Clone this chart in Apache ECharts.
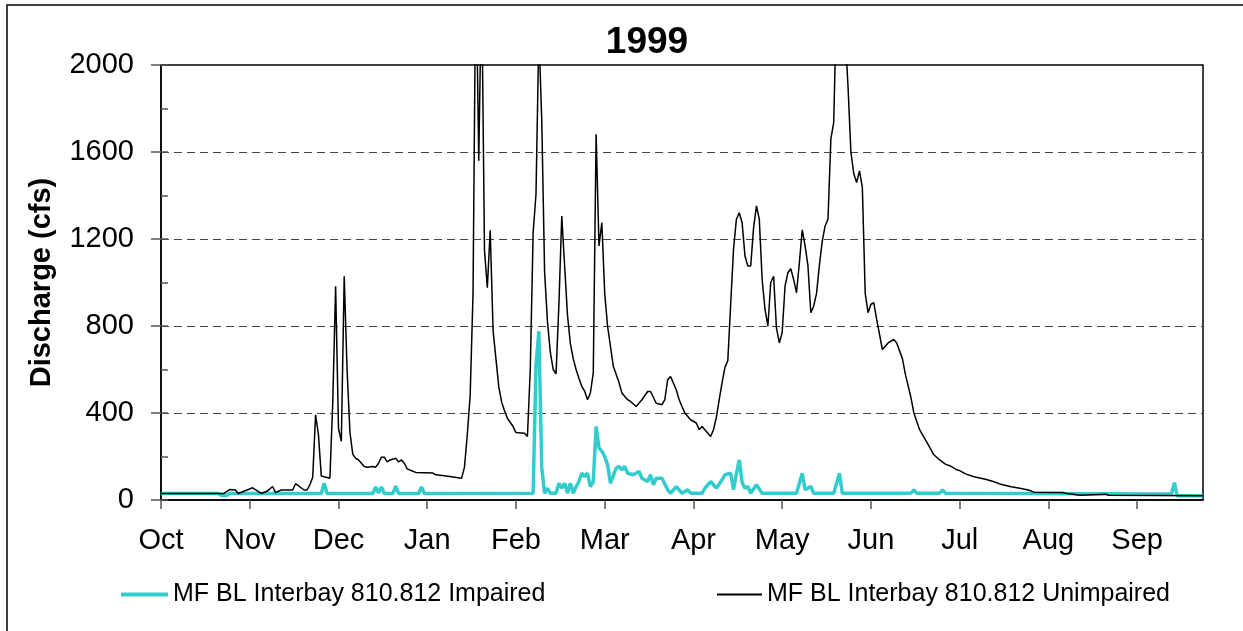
<!DOCTYPE html>
<html>
<head>
<meta charset="utf-8">
<title>1999</title>
<script src="https://cdn.jsdelivr.net/npm/echarts@6/dist/echarts.min.js"></script>
<style>
  html, body { margin: 0; padding: 0; background: #fff; }
  #chart { width: 1243px; height: 631px; }
</style>
</head>
<body>
<div id="chart"></div>
<script>
// day index counted from Oct 1 1998, ticks every 31 days like the original sheet
const monthLabels = ['Oct', 'Nov', 'Dec', 'Jan', 'Feb', 'Mar', 'Apr', 'May', 'Jun', 'Jul', 'Aug', 'Sep']
const tickDays = [0, 31, 62, 93, 124, 155, 186, 217, 248, 279, 310, 341]
const yTicks = [0, 400, 800, 1200, 1600, 2000]

const impairedName = 'MF BL Interbay 810.812 Impaired'
const unimpairedName = 'MF BL Interbay 810.812 Unimpaired'

// impaired flow (cfs)
const impairedDay = [0, 20, 21, 23, 24, 56, 57, 58, 74, 75, 76, 77, 78, 81, 82, 83, 90, 91, 92,
  130, 131, 132, 133, 134, 135, 136, 138, 139, 140, 141, 142, 143, 144, 145, 146, 147, 148, 149, 150,
  151, 152, 153, 154, 155, 156, 157, 159, 160, 161, 162, 163, 165, 167, 168, 170, 171, 172, 173, 175,
  177, 178, 180, 182, 184, 185, 189, 190, 192, 193, 194, 196, 197, 199, 200, 201, 202, 203, 204, 205,
  206, 208, 210, 222, 224, 225, 227, 228, 235, 237, 238, 262, 263, 264, 272, 273, 274, 353, 354, 355, 364]
const impairedCfs = [30, 30, 22, 22, 30, 30, 77, 30, 30, 60, 32, 60, 30, 30, 64, 30, 30, 60, 30,
  31, 620, 776, 150, 31, 54, 31, 31, 77, 54, 77, 31, 77, 31, 62, 85, 123, 108, 123, 62,
  85, 338, 240, 225, 200, 162, 77, 146, 154, 139, 154, 123, 116, 131, 100, 85, 116, 70, 100, 100,
  47, 31, 62, 31, 47, 31, 31, 54, 85, 70, 54, 93, 116, 123, 47, 120, 184, 80, 54, 62,
  31, 70, 31, 31, 123, 47, 62, 31, 31, 123, 31, 31, 47, 31, 31, 47, 31, 28, 80, 20, 20]

// unimpaired flow (cfs), peaks above 2000 run off the top of the plot
const unimpairedDay = [0, 22, 24, 26, 27, 32, 35, 37, 39, 40, 42, 46, 47, 50, 51, 52, 53, 54, 55, 56,
  59, 60, 61, 62, 63, 64, 65, 66, 67, 68, 69, 70, 71, 72, 74, 75, 76, 77, 78, 79, 80, 82, 83, 84, 85,
  86, 88, 89, 95, 96, 99, 105, 106, 107, 108, 109, 110, 111, 112, 113, 114, 115, 116, 117, 118, 119,
  120, 121, 123, 124, 127, 128, 129, 130, 131, 132, 133, 134, 135, 136, 137, 138, 139, 140, 141, 142,
  143, 144, 145, 146, 147, 148, 149, 150, 151, 152, 153, 154, 155, 156, 158, 160, 161, 163, 164, 166,
  168, 170, 171, 173, 175, 176, 177, 178, 180, 181, 182, 183, 185, 187, 188, 189, 190, 192, 193, 194,
  195, 196, 197, 198, 199, 200, 201, 202, 203, 204, 205, 206, 207, 208, 209, 210, 211, 212, 213, 214,
  215, 216, 217, 218, 219, 220, 221, 222, 223, 224, 225, 226, 227, 228, 229, 230, 231, 232, 233, 234,
  235, 236, 237, 238, 239, 240, 241, 242, 243, 244, 245, 246, 247, 248, 249, 250, 252, 254, 256, 257,
  259, 260, 262, 263, 265, 268, 270, 272, 274, 276, 278, 279, 281, 284, 288, 291, 293, 297, 300, 303,
  305, 315, 316, 321, 330, 331, 364]
const unimpairedCfs = [30, 30, 48, 46, 30, 56, 30, 40, 62, 34, 46, 46, 75, 46, 46, 70, 105, 392, 300, 110,
  100, 450, 983, 330, 270, 1029, 600, 312, 210, 192, 184, 169, 154, 151, 154, 151, 169, 197, 197, 175, 184, 192, 175, 184, 169,
  143, 132, 127, 124, 116, 112, 100, 150, 300, 480, 950, 2500, 1560, 2400, 1150, 976, 1240, 780, 650, 520, 450,
  410, 376, 338, 310, 307, 292, 600, 1230, 1406, 2150, 1750, 1050, 820, 680, 600, 580, 900, 1306, 1076, 850,
  720, 650, 600, 560, 522, 500, 461, 492, 584, 1682, 1168, 1275, 950, 799, 615, 540, 492, 461, 453, 430,
  461, 499, 499, 445, 438, 461, 553, 568, 507, 461, 430, 400, 369, 354, 323, 338, 323, 292, 323, 380,
  461, 540, 610, 640, 900, 1152, 1290, 1321, 1275, 1122, 1076, 1076, 1250, 1352, 1291, 1014, 876, 799, 1000, 1029,
  790, 722, 770, 984, 1045, 1063, 1014, 952, 1090, 1242, 1168, 1076, 861, 891, 950, 1080, 1190, 1260, 1291, 1659,
  1736, 2300, 2500, 2500, 2150, 1900, 1600, 1500, 1460, 1513, 1437, 950, 861, 900, 907, 830, 692, 722, 738, 722,
  650, 580, 470, 400, 323, 255, 208, 184, 165, 155, 139, 135, 120, 107, 95, 84, 74, 61, 54, 46,
  36, 34, 31, 22, 27, 22, 20]

const fontFamily = "'Liberation Sans', Arial, sans-serif"
const chartInstance = echarts.init(document.getElementById('chart'), null, { renderer: 'canvas' })

const option = {
  animation: false,
  backgroundColor: '#fff',
  textStyle: { fontFamily: fontFamily, color: '#000' },
  title: {
    text: '1999',
    left: 642,
    top: 19,
    textAlign: 'center',
    textStyle: { fontSize: 37, fontWeight: 'bold', color: '#000', fontFamily: fontFamily }
  },
  legend: [
    {
      data: [impairedName],
      left: 116,
      top: 577,
      icon: 'rect',
      itemWidth: 47,
      itemHeight: 4,
      itemGap: 6,
      itemStyle: { color: '#33cccc' },
      textStyle: { fontSize: 25, color: '#000', fontFamily: fontFamily }
    },
    {
      data: [unimpairedName],
      left: 712,
      top: 577,
      icon: 'rect',
      itemWidth: 45,
      itemHeight: 2,
      itemGap: 6,
      itemStyle: { color: '#000' },
      textStyle: { fontSize: 25, color: '#000', fontFamily: fontFamily }
    }
  ],
  graphic: [
    {
      type: 'rect',
      silent: true,
      shape: { x: 7, y: 5, width: 1260, height: 660 },
      style: { fill: 'none', stroke: '#000', lineWidth: 1.5 }
    }
  ],
  grid: {
    left: 161,
    top: 65,
    width: 1042,
    height: 435,
    show: true,
    borderColor: '#000',
    borderWidth: 1.5
  },
  xAxis: {
    type: 'value',
    min: 0,
    max: 364,
    interval: 31,
    axisLine: { lineStyle: { color: '#000', width: 1.5 } },
    axisTick: {
      customValues: tickDays,
      length: 9,
      lineStyle: { color: '#555', width: 1.5 }
    },
    axisLabel: {
      customValues: tickDays,
      margin: 26,
      fontSize: 29,
      color: '#000',
      fontFamily: fontFamily,
      formatter: v => monthLabels[tickDays.indexOf(v)] || ''
    },
    splitLine: { show: false }
  },
  yAxis: [
    {
      type: 'value',
      min: 0,
      max: 2000,
      interval: 400,
      name: 'Discharge (cfs)',
      nameLocation: 'middle',
      nameRotate: 90,
      nameGap: 105,
      nameTextStyle: { fontSize: 29, fontWeight: 'bold', color: '#000', fontFamily: fontFamily },
      axisLine: { show: true, lineStyle: { color: '#000', width: 1.5 } },
      axisTick: { show: true, length: 10, lineStyle: { color: '#555', width: 1.5 } },
      axisLabel: {
        customValues: yTicks,
        margin: 27,
        fontSize: 29,
        color: '#000',
        fontFamily: fontFamily,
        formatter: v => String(v)
      },
      splitLine: {
        show: true,
        showMinLine: false,
        showMaxLine: false,
        lineStyle: { color: '#444', width: 1, type: [8, 5] }
      }
    },
    {
      // minor ticks drawn inside the plot
      type: 'value',
      min: 0,
      max: 2000,
      interval: 200,
      position: 'left',
      offset: 0,
      axisLine: { show: false },
      axisTick: { show: true, inside: true, length: 7, lineStyle: { color: '#555', width: 1.5 } },
      axisLabel: { show: false },
      splitLine: { show: false }
    }
  ],
  series: [
    {
      name: impairedName,
      type: 'line',
      symbol: 'none',
      clip: true,
      lineStyle: { color: '#33cccc', width: 3.5 },
      itemStyle: { color: '#33cccc' },
      data: impairedDay.map((d, i) => [d, impairedCfs[i]])
    },
    {
      name: unimpairedName,
      type: 'line',
      symbol: 'none',
      clip: true,
      lineStyle: { color: '#000', width: 1.5 },
      itemStyle: { color: '#000' },
      data: unimpairedDay.map((d, i) => [d, unimpairedCfs[i]])
    }
  ]
}

chartInstance.setOption(option)
</script>
</body>
</html>
